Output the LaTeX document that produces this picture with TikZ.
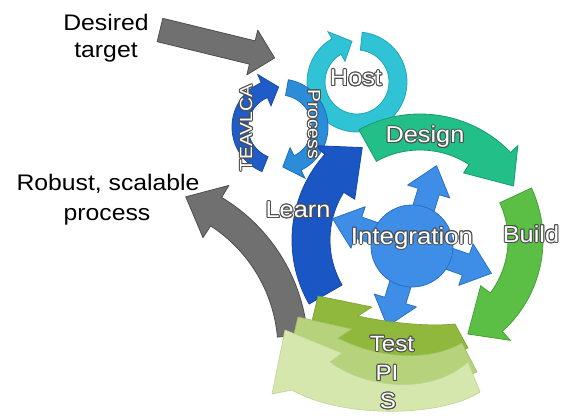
\documentclass[tikz,border=0pt]{standalone}
\usepackage{fontspec}
\setmainfont{Liberation Sans}[FakeStretch=1.1]
\usetikzlibrary{calc}
\definecolor{grayF}{HTML}{707070}
\definecolor{grayD}{HTML}{4E4E4E}
\definecolor{hostF}{HTML}{30C3D6}
\definecolor{hostD}{HTML}{22A6B8}
\definecolor{teaF}{HTML}{1F5CC7}
\definecolor{teaD}{HTML}{174AA0}
\definecolor{procF}{HTML}{2B8CD9}
\definecolor{procD}{HTML}{1F70B2}
\definecolor{desF}{HTML}{22C088}
\definecolor{desD}{HTML}{179A6C}
\definecolor{bldF}{HTML}{5CBF45}
\definecolor{bldD}{HTML}{46A035}
\definecolor{lrnF}{HTML}{1A57C4}
\definecolor{lrnD}{HTML}{1446A0}
\definecolor{intF}{HTML}{3E8EE8}
\definecolor{intD}{HTML}{2B6FC4}
\definecolor{tstF}{HTML}{8FB83D}
\definecolor{tstD}{HTML}{7AA032}
\definecolor{piF}{HTML}{B6D37C}
\definecolor{piD}{HTML}{9FBE64}
\definecolor{sF}{HTML}{D5E7AD}
\definecolor{sD}{HTML}{BCD492}
\definecolor{lblline}{HTML}{4E4E4E}
% curved band arrow: #1 style, #2 r in, #3 r out, #4 start angle, #5 outer head-base angle,
% #6 inner head-base angle, #7 tip angle, #8 head overhang
\newcommand{\carrow}[8]{%
  \filldraw[#1] plot[domain=#4:#5,samples=50] ({#3*cos(\x)},{#3*sin(\x)})
   -- ({(#3+#8)*cos(#5)},{(#3+#8)*sin(#5)})
   -- ({(#2+#3)/2*cos(#7)},{(#2+#3)/2*sin(#7)})
   -- ({(#2-#8)*cos(#6)},{(#2-#8)*sin(#6)})
   -- plot[domain=#6:#4,samples=50] ({#2*cos(\x)},{#2*sin(\x)}) -- cycle;}
\newcommand{\iarrow}[1]{%
  \filldraw[intarr, shift={(412,246)}, rotate=#1]
   (0,-11) -- (57,-11) -- (57,-22) -- (84,0) -- (57,22) -- (57,11) -- (0,11) -- cycle;}
\newcommand{\otext}[6]{% #1 name, #2 x, #3 y, #4 rotation, #5 font size, #6 text
  \foreach \ang in {0,30,...,330}{%
    \node[inner sep=0pt, text=lblline, rotate=#4, font=\fontsize{#5}{#5}\selectfont]
      at ($(#2,#3)+(\ang:1)$) {#6};}
  \node[inner sep=0pt, text=white, rotate=#4, font=\fontsize{#5}{#5}\selectfont]
    (#1) at (#2,#3) {#6};}
\tikzset{
  grayarr/.style={fill=grayF, draw=grayD, line width=0.8pt, line join=round},
  intarr/.style={fill=intF, draw=intD, line width=0.8pt, line join=round},
  blk/.style={inner sep=0pt, text=black, font=\fontsize{22.5}{26}\selectfont, anchor=base},
}
\begin{document}
\begin{tikzpicture}[x=1pt, y=-1pt]
\useasboundingbox (0,0) rectangle (566,418);
\fill[white] (0,0) rectangle (566,418);

% straight gray arrow
\filldraw[grayarr, shift={(160,30)}, rotate=-13.7]
  (0,-12) -- (95,-12) -- (95,-23) -- (118,0) -- (95,23) -- (95,12) -- (0,12) -- cycle;

% Host ring
\carrow{fill=hostF, draw=hostD, line width=0.8pt, shift={(357,82)}}{32}{50}{-84}{240}{240}{263}{8}

% small TEAVLCA / Process ring
\carrow{fill=teaF, draw=teaD, line width=0.8pt, shift={(280,127)}}{32}{48}{112}{247}{247}{268}{9}
\carrow{fill=procF, draw=procD, line width=0.8pt, shift={(280,127)}}{32}{48}{-80}{64}{64}{86}{9}

% Design and Build
\carrow{fill=desF, draw=desD, line width=0.8pt, shift={(420,240)}}{90}{126}{-119}{-44}{-57}{-30}{10}
\carrow{fill=bldF, draw=bldD, line width=0.8pt, shift={(420,240)}}{88}{123}{-25}{48}{37}{63}{12}

% gray curved arrow
\carrow{grayarr, shift={(130,350)}}{148}{178}{-5}{-59}{-57}{-70}{14}

% Learn
\carrow{fill=lrnF, draw=lrnD, line width=0.8pt, shift={(420,240)}}{90}{128}{150}{222}{212}{238}{13}

% Integration
\iarrow{73}
\iarrow{161}
\iarrow{-19}
\iarrow{-107}
\filldraw[fill=intF, draw=intD, line width=0.8pt] (412,246) circle[radius=41];

% Test / PI / S layers
\filldraw[fill=tstF, draw=tstD, line width=0.6pt, line join=round]
  (318,296) -- (372,307) -- (358,316) .. controls (385,322) and (425,327) .. (455,324)
  -- (468,348) .. controls (430,366) and (360,364) .. (322,342) -- (305,350) -- cycle;
\filldraw[fill=piF, draw=piD, line width=0.6pt, line join=round]
  (298,317) -- (352,329) -- (338,338) .. controls (372,356) and (425,364) .. (462,343)
  -- (477,372) .. controls (430,392) and (345,390) .. (302,364) -- (285,372) -- cycle;
\filldraw[fill=sF, draw=sD, line width=0.6pt, line join=round]
  (285,330) -- (342,353) -- (330,362) .. controls (365,388) and (430,396) .. (468,362)
  -- (480,392) .. controls (440,418) and (340,418) .. (292,390) -- (272,394) -- cycle;

% labels on shapes
\otext{host}{356}{78}{0}{23}{Host}
\otext{design}{425}{137}{0}{23}{Design}
\otext{build}{531}{234}{0}{23}{Build}
\otext{learn}{298}{210}{0}{23}{Learn}
\otext{integ}{412}{238}{0}{23.5}{Integration}
\otext{test}{392}{344}{0}{22}{Test}
\otext{pi}{387}{373}{0}{22}{PI}
\otext{s}{388}{401}{0}{22}{S}
\otext{teavlca}{246}{128}{90}{17.5}{TEAVLCA}
\otext{process}{314}{124}{-90}{17.5}{Process}

% outside labels
\node[blk] (desired) at (106,30) {Desired};
\node[blk] (target) at (106,57) {target};
\node[blk] (robust) at (108,190) {Robust, scalable};
\node[blk] (process2) at (107,220) {process};
\end{tikzpicture}
\end{document}
